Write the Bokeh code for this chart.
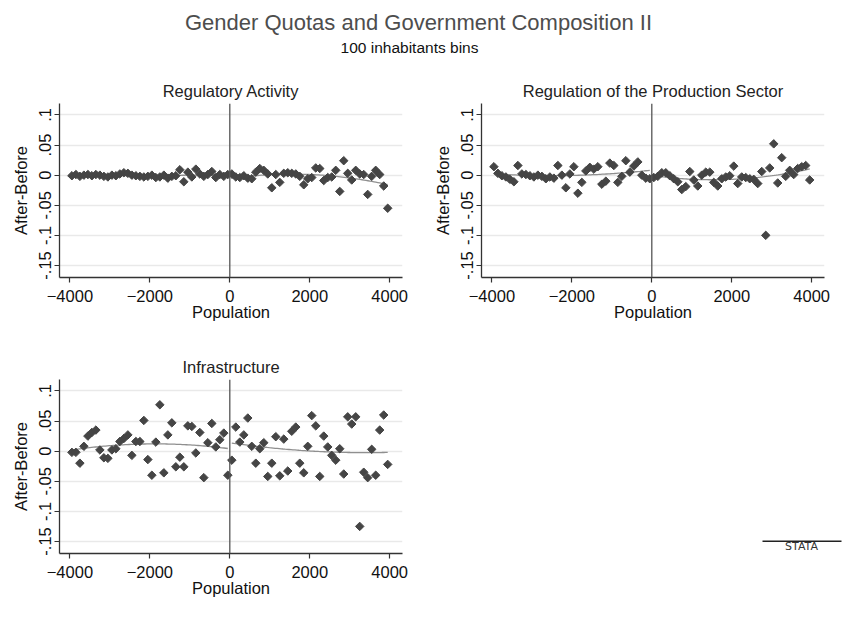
import numpy as np
from bokeh.plotting import figure
from bokeh.layouts import column, row
from bokeh.models import Range1d, Span, FixedTicker, CustomJSTickFormatter
from bokeh.embed import file_html
from bokeh.resources import INLINE
from bokeh.core.properties import value

# Population distance to the threshold, 100-inhabitant bins (bin centres)
population = list(range(-3950, 4000, 100))

# After-minus-before change per bin
regulatory_activity = [
    -0.001, 0.001, -0.002, 0.0, 0.001, -0.001, 0.001, 0.0, -0.002, -0.003,
    0.0, -0.001, 0.002, 0.004, 0.003, 0.0, -0.001, -0.002, -0.003, -0.002,
    0.0, -0.004, -0.003, 0.0, -0.005, -0.002, -0.001, 0.009, -0.011, 0.005,
    -0.003, 0.01, 0.002, -0.002, 0.001, 0.006, -0.004, 0.001, -0.002, 0.001,
    0.002, -0.003, -0.004, -0.001, -0.005, -0.006, 0.005, 0.011, 0.008, 0.002,
    -0.021, 0.001, -0.012, 0.003, 0.004, 0.003, 0.002, -0.002, -0.016, -0.006,
    -0.004, 0.012, 0.011, -0.009, -0.004, -0.003, 0.008, -0.027, 0.024, 0.003,
    -0.008, 0.008, 0.002, 0.001, -0.032, -0.002, 0.008, 0.001, -0.018, -0.055,
]
production_regulation = [
    0.014, 0.003, -0.001, -0.003, -0.007, -0.011, 0.016, 0.002, 0.001, -0.001,
    -0.003, 0.0, -0.002, -0.006, -0.003, -0.005, 0.016, 0.0, -0.021, 0.002,
    0.014, -0.03, -0.012, 0.007, 0.013, 0.01, 0.014, -0.015, -0.01, 0.02,
    0.016, -0.012, -0.002, 0.024, 0.005, 0.015, 0.022, 0.0, -0.005, -0.006,
    -0.004, -0.002, 0.004, 0.004, -0.001, -0.006, -0.011, -0.024, -0.019, 0.006,
    -0.008, -0.018, 0.0, 0.005, 0.005, -0.012, -0.018, -0.006, -0.003, -0.001,
    0.015, -0.014, -0.003, -0.004, -0.006, -0.007, -0.014, 0.006, -0.1, 0.012,
    0.052, -0.013, 0.029, -0.002, 0.008, 0.001, 0.011, 0.014, 0.016, -0.008,
]
infrastructure = [
    -0.002, -0.002, -0.02, 0.008, 0.025, 0.031, 0.035, 0.002, -0.011, -0.012,
    0.002, 0.004, 0.016, 0.021, 0.027, -0.007, 0.016, 0.016, 0.051, -0.014,
    -0.04, 0.015, 0.077, -0.036, 0.027, 0.047, -0.026, -0.01, -0.026, 0.042,
    0.041, -0.003, 0.031, -0.044, 0.014, 0.046, 0.007, 0.019, 0.03, -0.04,
    -0.015, 0.04, 0.015, 0.027, 0.055, 0.008, -0.02, 0.004, 0.014, -0.042,
    -0.02, 0.024, -0.041, 0.02, -0.033, 0.033, 0.04, -0.02, -0.036, 0.008,
    0.059, 0.042, -0.042, 0.025, 0.007, -0.007, -0.015, 0.004, -0.038, 0.057,
    0.045, 0.057, -0.125, -0.035, -0.044, 0.003, -0.04, 0.035, 0.06, -0.022,
]

panel_titles = ["Regulatory Activity", "Regulation of the Production Sector", "Infrastructure"]
x_ticks = [-4000, -2000, 0, 2000, 4000]
y_ticks = [-0.15, -0.1, -0.05, 0, 0.05, 0.1]
y_tick_labels = ["-.15", "-.1", "-.05", "0", ".05", ".1"]

FONT = "Liberation Sans"
DOT = "#454545"
FIT = "#8f8f8f"
AXIS = "#333333"
TXT = "16.5px"


def quad_fit(xs, ys, side):
    """Quadratic fit on one side of the threshold, evaluated over that side's range."""
    xs = np.asarray(xs, float)
    ys = np.asarray(ys, float)
    m = xs < 0 if side < 0 else xs > 0
    coef = np.polyfit(xs[m], ys[m], 2)
    gx = np.linspace(xs[m].min(), xs[m].max(), 80)
    return gx, np.polyval(coef, gx)


def panel(title, ys, border_left, border_right, border_top, border_bottom):
    p = figure(
        frame_width=343, frame_height=174,
        min_border_left=border_left, min_border_right=border_right,
        min_border_top=border_top, min_border_bottom=border_bottom,
        x_range=Range1d(-4260, 4320), y_range=Range1d(-0.170, 0.119),
        output_backend="svg", toolbar_location=None, title=title,
    )
    p.outline_line_color = None
    p.background_fill_color = "white"
    p.border_fill_color = "white"

    p.title.align = "center"
    p.title.text_font = FONT
    p.title.text_font_size = TXT
    p.title.text_font_style = "normal"
    p.title.text_color = "#222222"
    p.title.standoff = 7

    p.xgrid.visible = False
    p.ygrid.ticker = FixedTicker(ticks=y_ticks)
    p.ygrid.grid_line_color = "#e9e9e9"
    p.ygrid.grid_line_width = 1.5

    p.xaxis.ticker = FixedTicker(ticks=x_ticks)
    p.yaxis.ticker = FixedTicker(ticks=y_ticks)
    p.yaxis.formatter = CustomJSTickFormatter(
        args=dict(vals=y_ticks, labels=y_tick_labels),
        code="const i = vals.findIndex(v => Math.abs(v - tick) < 1e-9); return i < 0 ? '' : labels[i];",
    )
    p.yaxis.major_label_orientation = "parallel"
    p.xaxis.axis_label = "Population"
    p.yaxis.axis_label = "After-Before"
    for ax in (p.xaxis[0], p.yaxis[0]):
        ax.axis_line_color = AXIS
        ax.axis_line_width = 1.3
        ax.major_tick_line_color = AXIS
        ax.major_tick_line_width = 1.2
        ax.major_tick_out = 5
        ax.major_tick_in = 0
        ax.minor_tick_line_color = None
        ax.major_label_text_font = FONT
        ax.major_label_text_font_size = TXT
        ax.major_label_text_color = "#111111"
        ax.axis_label_text_font = FONT
        ax.axis_label_text_font_size = TXT
        ax.axis_label_text_font_style = "normal"
        ax.axis_label_text_color = "#111111"
    p.xaxis.major_label_standoff = 7
    p.xaxis.axis_label_standoff = -2
    p.yaxis.major_label_standoff = 3
    p.yaxis.axis_label_standoff = 7

    p.add_layout(Span(location=0, dimension="height", line_color="#555555", line_width=1.3))

    for side in (-1, 1):
        gx, gy = quad_fit(population, ys, side)
        p.line(gx, gy, line_color=FIT, line_width=1.3)

    p.scatter(population, ys, marker="square", angle=np.pi / 4, size=6,
              fill_color=DOT, line_color=DOT)
    return p


# Header with the overall title and subtitle
header = figure(width=845, height=70, x_range=Range1d(0, 845), y_range=Range1d(0, 70),
                min_border=0, output_backend="svg", toolbar_location=None)
header.axis.visible = False
header.grid.visible = False
header.outline_line_color = None
header.text(x=[418], y=[48], text=["Gender Quotas and Government Composition II"],
            text_font=value(FONT), text_font_size="22px", text_color="#4d4d4d",
            text_align="center", text_baseline="middle")
header.text(x=[409], y=[23], text=["100 inhabitants bins"],
            text_font=value(FONT), text_font_size="15.5px", text_color="#111111",
            text_align="center", text_baseline="middle")

p1 = panel(panel_titles[0], regulatory_activity, 59, 18, 33, 68)
p2 = panel(panel_titles[1], production_regulation, 61, 21, 33, 68)
p3 = panel(panel_titles[2], infrastructure, 59, 18, 34, 74)

# Bottom-right corner with the software mark
mark = figure(width=425, height=282, x_range=Range1d(0, 425), y_range=Range1d(0, 282),
              min_border=0, output_backend="svg", toolbar_location=None)
mark.axis.visible = False
mark.grid.visible = False
mark.outline_line_color = None
mark.segment(x0=[342], y0=[20], x1=[421], y1=[20], line_color="#222222", line_width=1.5)
mark.text(x=[381], y=[11], text=["STATA"], text_font=value("DejaVu Sans"),
          text_font_size="11px", text_color="#333333",
          text_align="center", text_baseline="middle")

layout = column(header, row(p1, p2), row(p3, mark))

open("out.html", "w").write(file_html(layout, INLINE))
